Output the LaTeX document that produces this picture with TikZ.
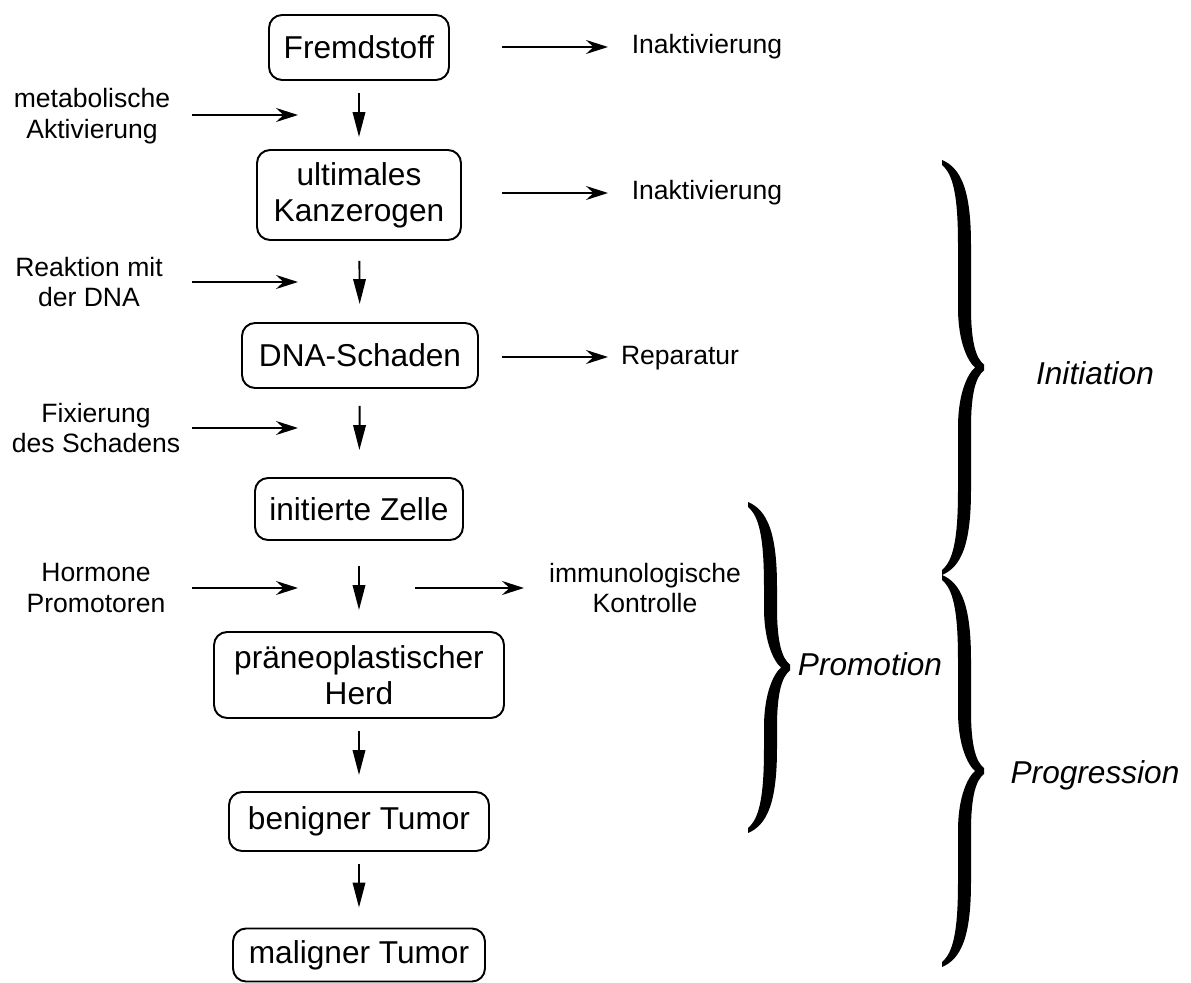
\documentclass[tikz,border=0pt]{standalone}
\usepackage{fontspec}
\setmainfont{Liberation Sans}
\usepackage{tikz}
\usetikzlibrary{arrows.meta,positioning,calc}
\tikzset{
  krebsbox/.style={draw,line width=1.1pt,rounded corners=2.6mm,inner sep=0pt,align=center,font=\fontsize{18}{20.5}\selectfont},
  krebsnote/.style={inner sep=0pt,align=center,font=\fontsize{15.1}{17.6}\selectfont},
  krebsphase/.style={inner sep=0pt,font=\fontsize{18}{21}\selectfont\itshape},
  krebsdown/.style={-{Triangle[length=5mm,width=2.5mm]},line width=1.1pt},
  krebsside/.style={-{Stealth[length=4.4mm,width=2.8mm,inset=1.5mm]},line width=1.1pt},
}
% filled curly brace: arm x, top y, bottom y
\newcommand\phasebrace[3]{%
  \pgfmathsetmacro\bracemid{(#2+#3)/2}
  \fill ({#1-22},{#2}) .. controls ({#1-3},{#2+8}) and ({#1+7},{#2+30}) .. ({#1+7},{#2+85})
    -- ({#1+7},{\bracemid-60}) .. controls ({#1+7},{\bracemid-25}) and ({#1+12},{\bracemid-9}) .. ({#1+20},{\bracemid-3})
    -- ({#1+20},{\bracemid+3}) .. controls ({#1+12},{\bracemid+9}) and ({#1+7},{\bracemid+25}) .. ({#1+7},{\bracemid+60})
    -- ({#1+7},{#3-85}) .. controls ({#1+7},{#3-30}) and ({#1-3},{#3-8}) .. ({#1-22},{#3})
    -- ({#1-22},{#3-5}) .. controls ({#1-11},{#3-14}) and ({#1-6},{#3-35}) .. ({#1-6},{#3-85})
    -- ({#1-6},{\bracemid+60}) .. controls ({#1-6},{\bracemid+25}) and ({#1+4},{\bracemid+6}) .. ({#1+11},{\bracemid})
    .. controls ({#1+4},{\bracemid-6}) and ({#1-6},{\bracemid-25}) .. ({#1-6},{\bracemid-60})
    -- ({#1-6},{#2+85}) .. controls ({#1-6},{#2+35}) and ({#1-11},{#2+14}) .. ({#1-22},{#2+5}) -- cycle;}

\begin{document}
\begin{tikzpicture}[x=0.02cm,y=-0.02cm]
\useasboundingbox (0,0) rectangle (1191,983);
% main chain
\node[krebsbox,minimum width=36mm,minimum height=13mm] (fremd) at (359,47.5) {Fremdstoff};
\node[krebsbox,minimum width=40.8mm,minimum height=18mm] (kanz) at (359,195) {ultimales\\Kanzerogen};
\node[krebsbox,minimum width=47.2mm,minimum height=13mm] (dna) at (360,355.5) {DNA-Schaden};
\node[krebsbox,minimum width=41.6mm,minimum height=12.4mm] (zelle) at (359,509) {initierte Zelle};
\node[krebsbox,minimum width=58mm,minimum height=17.2mm] (herd) at (359,675) {präneoplastischer\\Herd};
\node[krebsbox,minimum width=52mm,minimum height=11.8mm] (benign) at (359,821.5) {benigner Tumor};
\node[krebsbox,minimum width=50.4mm,minimum height=10.6mm] (malign) at (359,955) {maligner Tumor};
\draw[krebsdown,shorten <=2.4mm,shorten >=2.4mm](fremd)--(kanz);
\draw[krebsdown,shorten <=4mm,shorten >=3.6mm](kanz)--(dna);
\draw[krebsdown,shorten <=3.4mm,shorten >=5.4mm](dna)--(zelle);
\draw[krebsdown,shorten <=5mm,shorten >=4.2mm](zelle)--(herd);
\draw[krebsdown,shorten <=2.4mm,shorten >=3.2mm](herd)--(benign);
\draw[krebsdown,shorten <=2.4mm,shorten >=4mm](benign)--(malign);
% influences from the left
\node[krebsnote] (metab) at (92,116) {metabolische\\Aktivierung};
\node[krebsnote] (reakt) at (89,282) {Reaktion mit\\der DNA};
\node[krebsnote] (fix) at (96,428) {Fixierung\\des Schadens};
\node[krebsnote] (horm) at (96,588) {Hormone\\Promotoren};
\coordinate (l1) at (192,115); \coordinate (m1) at (298,115);
\coordinate (l2) at (192,282); \coordinate (m2) at (298,282);
\coordinate (l3) at (192,428); \coordinate (m3) at (298,428);
\coordinate (l4) at (192,588); \coordinate (m4) at (298,588);
\draw[krebsside](l1)--(m1);\draw[krebsside](l2)--(m2);\draw[krebsside](l3)--(m3);\draw[krebsside](l4)--(m4);
% losses to the right
\node[krebsnote] (inakt1) at (707,47) {Inaktivierung};
\node[krebsnote] (inakt2) at (707,193) {Inaktivierung};
\node[krebsnote] (repar) at (680,358) {Reparatur};
\node[krebsnote] (immun) at (645,588) {immunologische\\Kontrolle};
\coordinate (r1) at (502,47); \coordinate (q1) at (608,47);
\coordinate (r2) at (502,193); \coordinate (q2) at (608,193);
\coordinate (r3) at (502,357); \coordinate (q3) at (608,357);
\coordinate (r4) at (415,588); \coordinate (q4) at (524,588);
\draw[krebsside](r1)--(q1);\draw[krebsside](r2)--(q2);\draw[krebsside](r3)--(q3);\draw[krebsside](r4)--(q4);
% phases
\phasebrace{770}{502}{833}
\phasebrace{964}{160}{575}
\phasebrace{964}{575}{967}
\node[krebsphase] (promo) at (870,664) {Promotion};
\node[krebsphase] (init) at (1095,373) {Initiation};
\node[krebsphase] (progr) at (1095,775) {Progression};
\end{tikzpicture}
\end{document}
